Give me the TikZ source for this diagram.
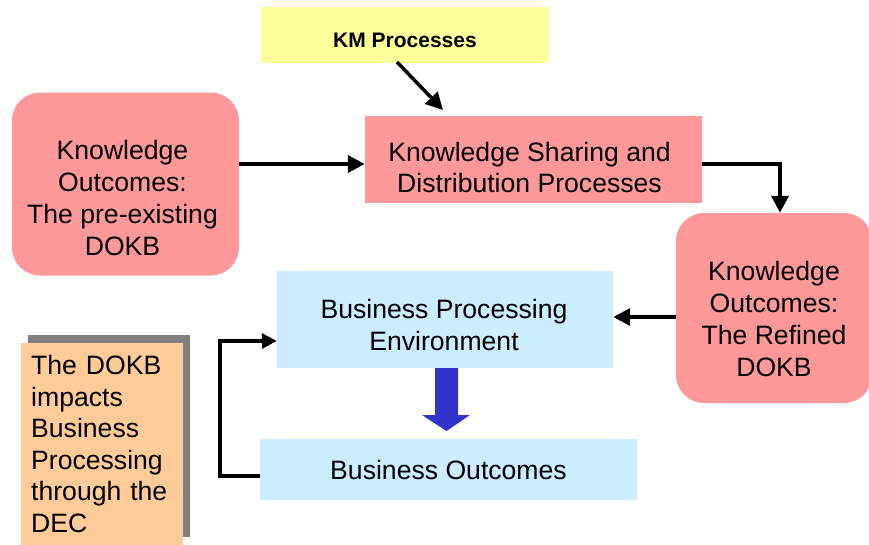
\documentclass[tikz,border=0pt]{standalone}
\usepackage{fontspec}
\setmainfont{Liberation Sans}
\usetikzlibrary{arrows.meta}
\definecolor{pinkbox}{HTML}{FF9999}
\definecolor{yellowbox}{HTML}{FFFF99}
\definecolor{bluebox}{HTML}{CCECFF}
\definecolor{orangebox}{HTML}{FFCC99}
\definecolor{shadowgray}{HTML}{808080}
\definecolor{bigarrow}{HTML}{3333CC}
\tikzset{
  txt/.style={font=\fontsize{26.6}{31.5}\selectfont, align=center, inner sep=0pt, text=black},
  boxbase/.style={inner sep=0pt},
  pinkround/.style={boxbase, fill=pinkbox, rounded corners=28pt},
  pinkrect/.style={boxbase, fill=pinkbox},
  bluerect/.style={boxbase, fill=bluebox},
  conn/.style={line width=3.5pt, -{Triangle[length=17pt,width=17pt]}},
}
\begin{document}
\begin{tikzpicture}[x=1pt,y=-1pt]
\useasboundingbox (0,0) rectangle (869,544);
% boxes
\node[boxbase, fill=yellowbox, minimum width=288pt, minimum height=56pt] (km) at (405,35) {};
\node[txt, font=\fontsize{21}{24}\selectfont\bfseries] (kmt) at ([yshift=-5pt]km.center) {KM Processes};
\node[pinkround, minimum width=227pt, minimum height=183pt] (ko1) at (125.5,184) {};
\node[txt, font=\fontsize{26.6}{32}\selectfont] (ko1t) at ([xshift=-3pt,yshift=-14pt]ko1.center) {Knowledge\\Outcomes:\\The pre-existing\\DOKB};
\node[pinkrect, minimum width=337pt, minimum height=87pt] (ks) at (533.5,159.5) {};
\node[txt, font=\fontsize{26.6}{31}\selectfont] (kst) at ([xshift=-4pt,yshift=-8pt]ks.center) {Knowledge Sharing and\\Distribution Processes};
\node[pinkround, minimum width=196pt, minimum height=190pt] (ko2) at (774,308) {};
\node[txt, font=\fontsize{26.6}{32}\selectfont] (ko2t) at ([yshift=-11pt]ko2.center) {Knowledge\\Outcomes:\\The Refined\\DOKB};
\node[bluerect, minimum width=336pt, minimum height=97pt] (bpe) at (445,319.5) {};
\node[txt, font=\fontsize{26.6}{32}\selectfont] (bpet) at ([xshift=-1pt,yshift=-5pt]bpe.center) {Business Processing\\Environment};
\node[bluerect, minimum width=377pt, minimum height=61pt] (bo) at (448.5,469.5) {};
\node[txt] (bot) at (bo.center) {Business Outcomes};
% orange note with shadow
\fill[shadowgray] (28,335) rectangle (190,537);
\node[txt, align=left, fill=orangebox, minimum width=162pt, minimum height=202pt, text width=142pt, inner xsep=10pt, anchor=north west] (note) at (21,343) {The DOKB\\impacts\\Business\\Processing\\through the\\DEC};
% connectors
\coordinate (kmstart) at (397,62);
\coordinate (kstip) at (443,110);
\draw[conn] (kmstart) -- (kstip);
\coordinate (r164) at (0,164);
\draw[conn] (ko1.east |- r164) -- (ks.west |- r164);
\coordinate (c780) at (780,0);
\draw[conn] (ks.east |- r164) -| (ko2.north -| c780);
\coordinate (r317) at (0,317);
\draw[conn] (ko2.west |- r317) -- (bpe.east |- r317);
\coordinate (r476) at (0,476);
\coordinate (r341) at (0,341);
\draw[conn, -{Triangle[length=15pt,width=15pt]}] (bo.west |- r476) -- (220,476) -- (220,341) -- (bpe.west |- r341);
% big blue arrow
\fill[bigarrow] (bpe.south -| 435,0) -- (458,368) -- (458,415) -- (470,415) -- (446.5,431) -- (422,415) -- (435,415) -- cycle;
\end{tikzpicture}
\end{document}
